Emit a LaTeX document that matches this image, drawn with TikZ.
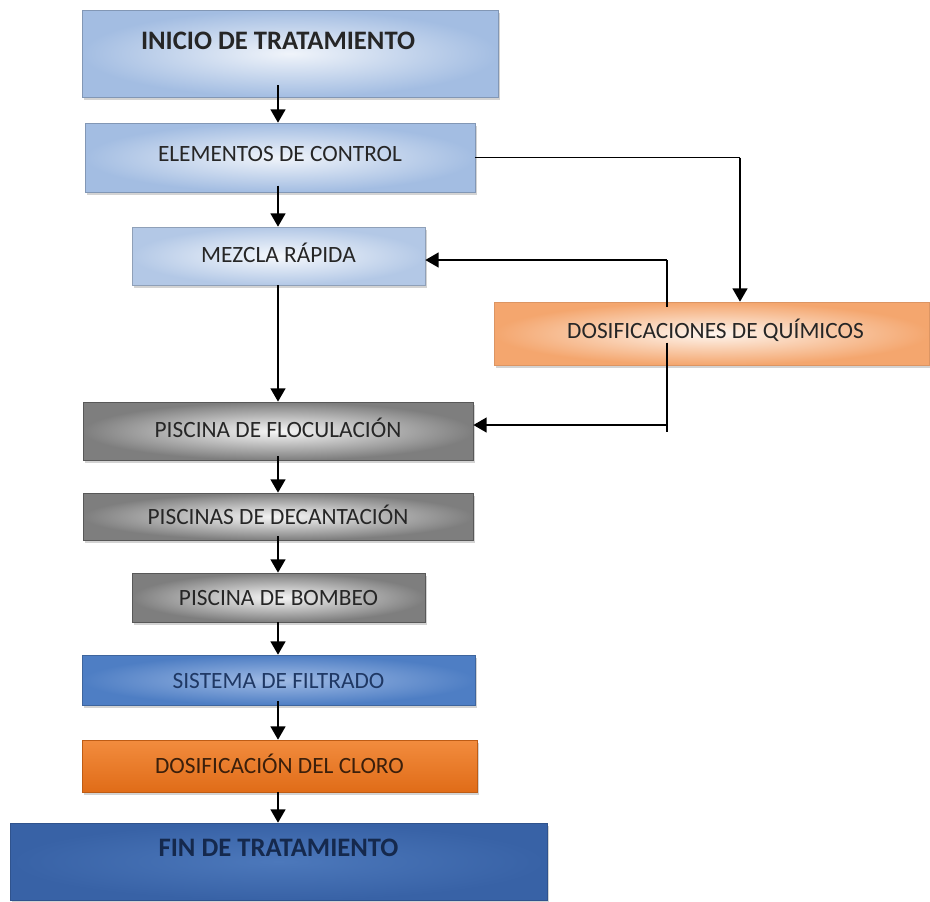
\documentclass[tikz,border=0pt]{standalone}
\usepackage{fontspec}
\setmainfont{Carlito}
\usetikzlibrary{arrows.meta,shadows,calc}
\definecolor{lbOut}{HTML}{A3BDE2}
\definecolor{lbIn}{HTML}{F0F4FA}
\definecolor{mzOut}{HTML}{B3C8E6}
\definecolor{mzIn}{HTML}{F6F9FD}
\definecolor{gyOut}{HTML}{7E7E7E}
\definecolor{gyIn}{HTML}{F7F7F7}
\definecolor{pcOut}{HTML}{F4A66E}
\definecolor{pcIn}{HTML}{FEF5EE}
\definecolor{sbOut}{HTML}{4E7EC4}
\definecolor{sbIn}{HTML}{A0BBE5}
\definecolor{orTop}{HTML}{F28C3E}
\definecolor{orBot}{HTML}{E06C18}
\definecolor{fnOut}{HTML}{3862A6}
\definecolor{fnIn}{HTML}{4C78BB}
\definecolor{txDark}{HTML}{262626}
\definecolor{txNavy}{HTML}{1F3864}
\definecolor{txBrown}{HTML}{3B1F0B}
\definecolor{txFin}{HTML}{15294D}
\begin{document}
\begin{tikzpicture}[x=0.75pt,y=-0.75pt,
  box/.style={rectangle, inner sep=0pt, text height=12pt, text depth=0pt,
    font=\fontsize{17.5}{20}\selectfont, text=txDark,
    drop shadow={shadow xshift=1.8pt,shadow yshift=-2.2pt,opacity=0.35}},
  lblue/.style={inner color=lbIn, outer color=lbOut, draw=lbOut!80!black, line width=0.4pt},
  mblue/.style={inner color=mzIn, outer color=mzOut, draw=mzOut!80!black, line width=0.4pt},
  grey/.style={inner color=gyIn, outer color=gyOut, draw=gyOut!70!black, line width=0.5pt},
  peach/.style={inner color=pcIn, outer color=pcOut, draw=pcOut!90!black, line width=0.4pt},
  sblue/.style={inner color=sbIn, outer color=sbOut, draw=sbOut!80!black, line width=0.4pt, text=txNavy},
  orng/.style={top color=orTop, bottom color=orBot, draw=orBot!85!black, line width=0.4pt, text=txBrown},
  fblue/.style={inner color=fnIn, outer color=fnOut, draw=fnOut!85!black, line width=0.4pt, text=txFin},
  bigtxt/.style={font=\bfseries\fontsize{20}{24}\selectfont},
  arr/.style={line width=1.8pt, -{Triangle[length=10pt,width=11pt]}},
  thinln/.style={line width=1.2pt}
]
\useasboundingbox (0,0) rectangle (930,901);

\node[box, lblue, bigtxt, minimum width=312pt, minimum height=65.25pt,
  text height=12.6pt, text depth=18.8pt] (ini) at (290,53.5) {INICIO DE TRATAMIENTO\hspace*{18pt}};
\node[box, lblue, minimum width=292.5pt, minimum height=51.75pt, text depth=6pt] (ele) at (280,157.5) {ELEMENTOS DE CONTROL};
\node[box, mblue, minimum width=219.75pt, minimum height=43.5pt, text depth=3pt] (mez) at (278.5,256) {MEZCLA RÁPIDA};
\node[box, peach, minimum width=326.25pt, minimum height=47.25pt, text depth=4pt] (dos) at (711.5,333.5) {\hspace*{6pt}DOSIFICACIONES DE QUÍMICOS};
\node[box, grey, minimum width=292.5pt, minimum height=43.5pt, text depth=2pt] (flo) at (278,431) {PISCINA DE FLOCULACIÓN};
\node[box, grey, minimum width=292.5pt, minimum height=35.25pt] (dec) at (278,516.5) {PISCINAS DE DECANTACIÓN};
\node[box, grey, minimum width=219.75pt, minimum height=36.75pt] (bom) at (278.5,597.5) {PISCINA DE BOMBEO};
\node[box, sblue, minimum width=294.75pt, minimum height=37.5pt] (sis) at (278.5,680) {SISTEMA DE FILTRADO};
\node[box, orng, minimum width=296.25pt, minimum height=39pt, text depth=1pt] (clo) at (279.5,766) {DOSIFICACIÓN DEL CLORO};
\node[box, fblue, bigtxt, minimum width=402.75pt, minimum height=57.75pt,
  text height=12.6pt, text depth=20.2pt] (fin) at (278.5,861.5) {FIN DE TRATAMIENTO};

% main axis
\coordinate (ax) at (278,0);
\draw[arr] ([yshift=9pt]ini.south -| ax) -- (ele.north -| ax);
\draw[arr] ([yshift=5pt]ele.south -| ax) -- (mez.north -| ax);
\draw[arr] (mez.south -| ax) -- (flo.north -| ax);
\draw[arr] ([yshift=3pt]flo.south -| ax) -- (dec.north -| ax);
\draw[arr] ([yshift=3pt]dec.south -| ax) -- (bom.north -| ax);
\draw[arr] (bom.south -| ax) -- (sis.north -| ax);
\draw[arr] ([yshift=3pt]sis.south -| ax) -- (clo.north -| ax);
\draw[arr] (clo.south -| ax) -- (fin.north -| ax);

% control to dosing
\coordinate (kx) at (740,0);
\draw[thinln] (ele.east) -- (ele.east -| kx);
\draw[arr] (ele.east -| kx) -- (dos.north -| kx);

% dosing bus
\coordinate (bt) at (667,260);
\coordinate (bh) at (667,425);
\coordinate (bb) at (667,432);
\draw[thinln] (bt) -- ([yshift=-4pt]dos.north -| bt);
\draw[thinln] ([yshift=17pt]dos.south -| bt) -- (bb);
\draw[arr] (bt) -- (bt -| mez.east);
\draw[arr] (bh) -- (bh -| flo.east);
\end{tikzpicture}
\end{document}
